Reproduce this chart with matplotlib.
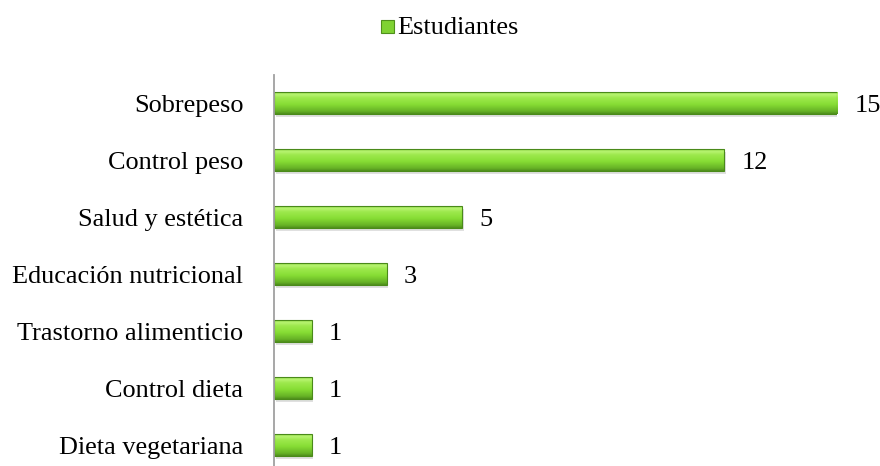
import matplotlib
matplotlib.use("Agg")
import matplotlib.pyplot as plt
import numpy as np
from matplotlib.colors import LinearSegmentedColormap
from matplotlib.patches import Rectangle

categories = ["Dieta vegetariana", "Control dieta", "Trastorno alimenticio",
              "Educación nutricional", "Salud y estética", "Control peso", "Sobrepeso"]
values = [1, 1, 1, 3, 5, 12, 15]
series_name = "Estudiantes"

plt.rcParams['font.family'] = ['Liberation Serif', 'DejaVu Serif']
FS = 18.9

fig = plt.figure(figsize=(8.8, 4.66), dpi=100)
ax = fig.add_axes([274/880, 0.0, (837-274)/880, 0.840])

cmap = LinearSegmentedColormap.from_list("g", [
    (0.0, "#4f8f1c"), (0.12, "#66b226"), (0.45, "#88de35"),
    (0.75, "#9ee94e"), (0.9, "#b8f472"), (1.0, "#90d942")])
grad = np.linspace(0, 1, 64).reshape(-1, 1)
h = 0.386
ypos = np.arange(len(categories))
for y, v in zip(ypos, values):
    ax.add_patch(Rectangle((0.05, y - h/2 - 0.06), v, h, facecolor="#000000",
                           alpha=0.12, edgecolor="none", zorder=1))
    ax.imshow(grad, extent=(0, v, y - h/2, y + h/2), origin="lower",
              cmap=cmap, aspect="auto", zorder=2, interpolation="bilinear")
    ax.add_patch(Rectangle((0, y - h/2), v, h, facecolor="none",
                           edgecolor="#4a8a1a", linewidth=0.8, zorder=3))
    ax.text(v + 0.46, y, str(v), va="center_baseline", ha="left", fontsize=FS,
            color="#000000", clip_on=False)

ax.set_xlim(0, 15)
ax.set_ylim(-0.368, 6.5)
ax.set_yticks(ypos)
ax.set_yticklabels(categories, fontsize=FS, va="center_baseline")
ax.tick_params(axis="y", length=0, pad=22)
ax.set_xticks([])
for s in ["top", "right", "bottom"]:
    ax.spines[s].set_visible(False)
ax.spines["left"].set_color("#a0a0a0")
ax.spines["left"].set_linewidth(1.3)
ax.spines["left"].set_zorder(5)

# legend
fig.patches.append(Rectangle((381/880, 1 - 33/466), 13/880, 13/466,
                             transform=fig.transFigure, facecolor="#7fd233",
                             edgecolor="#4f8f1c", linewidth=0.8))
fig.text(397/880, 1 - 26/466, series_name, fontsize=FS, va="center_baseline", ha="left")

fig.savefig("out.png", dpi=100)
